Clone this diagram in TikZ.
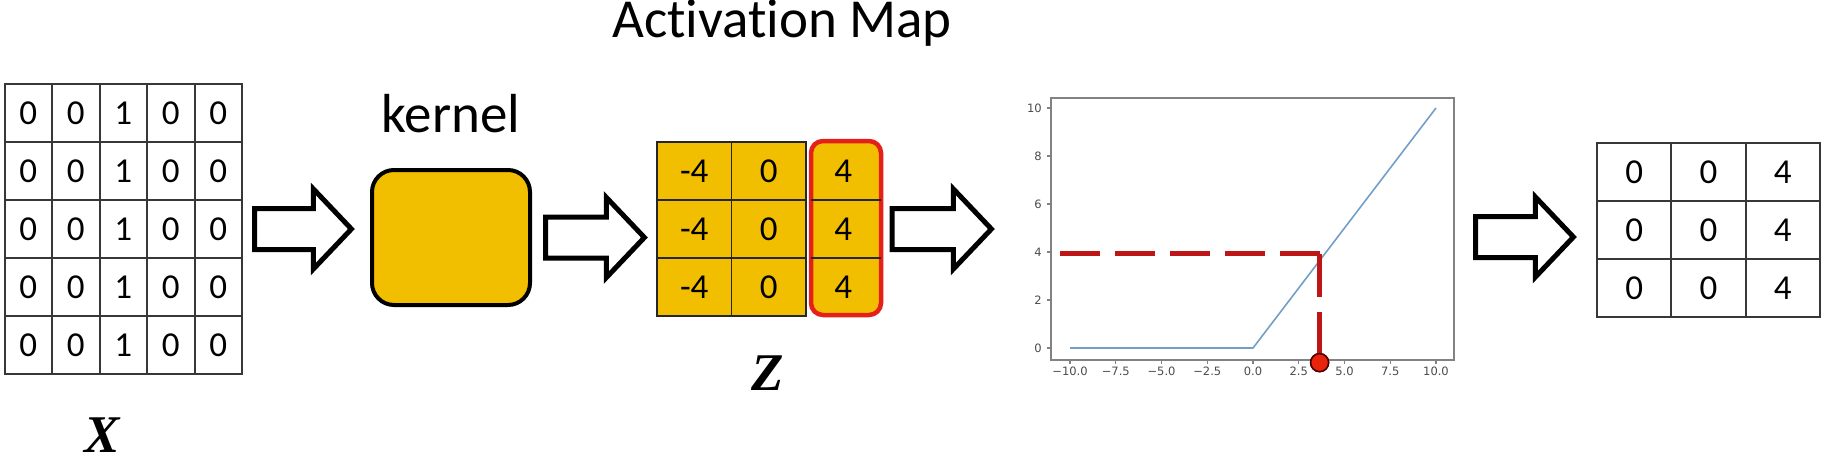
\documentclass[tikz,border=0pt]{standalone}
\usepackage{fontspec}
\setmainfont{Carlito}[Ligatures=NoCommon]
\newfontfamily\tickfont{DejaVu Sans}
\newfontfamily\mathlike{Liberation Serif}
\usetikzlibrary{calc,fit}
\definecolor{gold}{RGB}{242,190,0}
\definecolor{boxred}{RGB}{228,32,24}
\definecolor{dashred}{RGB}{190,22,22}
\definecolor{dotred}{RGB}{232,36,12}
\definecolor{relublue}{RGB}{115,158,200}
\definecolor{gridgray}{RGB}{55,55,55}
\definecolor{framegray}{RGB}{130,130,130}
\definecolor{ticktext}{RGB}{75,75,75}
\tikzset{
  digits/.style={font=\fontsize{35}{40}\selectfont},
  cellX/.style={draw=gridgray, line width=2pt, minimum width=47.5pt, minimum height=58pt, inner sep=0pt, outer sep=0pt, digits},
  cellZ/.style={draw=black!85, fill=gold, line width=1.6pt, minimum width=74.5pt, minimum height=58pt, inner sep=0pt, outer sep=0pt, digits},
  cellZsel/.style={minimum width=74.5pt, minimum height=58pt, inner sep=0pt, outer sep=0pt, digits},
  cellO/.style={draw=gridgray, line width=2pt, minimum width=74.3pt, minimum height=58pt, inner sep=0pt, outer sep=0pt, digits},
  selbox/.style={draw=boxred, fill=gold, line width=4.5pt, rounded corners=12pt, minimum width=70pt, minimum height=174pt, inner sep=0pt, outer sep=0pt},
  selsep/.style={draw=black!85, line width=1.6pt},
  kernelbox/.style={draw=black, fill=gold, line width=4pt, rounded corners=22pt, minimum width=158pt, minimum height=135pt, inner sep=0pt, outer sep=0pt},
  bigtext/.style={font=\fontsize{55}{60}\selectfont, inner sep=0pt},
  varlabel/.style={font=\mathlike\bfseries\itshape\fontsize{53}{60}\selectfont, inner sep=0pt},
  plotframe/.style={draw=framegray, line width=1.5pt, minimum width=403pt, minimum height=262pt, inner sep=0pt, outer sep=0pt},
  ticklab/.style={font=\tickfont\fontsize{11.5}{12}\selectfont, text=ticktext, inner sep=0pt},
  tickmark/.style={draw=framegray, line width=1.2pt},
  barrow/.style={draw=black, fill=white, line width=5pt, line join=miter},
  relu/.style={draw=relublue, line width=1.6pt},
  reddash/.style={draw=dashred, line width=5pt},
  reddot/.style={circle, draw=black!70!red, fill=dotred, line width=1.5pt, minimum size=18pt, inner sep=0pt}
}
\newcommand{\blockarrow}[2]{%
  \draw[barrow] ($(#1)+(0,-20.5)$) -- ($(#2)+(-38,-20.5)$) -- ($(#2)+(-38,-40)$) -- (#2)
     -- ($(#2)+(-38,40)$) -- ($(#2)+(-38,20.5)$) -- ($(#1)+(0,20.5)$) -- cycle;}
\begin{document}
\begin{tikzpicture}[x=1pt,y=-1pt]
\path[use as bounding box] (0,0) rectangle (1826,460);

% title
\node[bigtext, anchor=base] (title) at (782,38) {Activation Map};

% X grid
\foreach \r in {1,...,5}{
  \foreach \c/\v in {1/0,2/0,3/1,4/0,5/0}{
    \node[cellX] (X-\r-\c) at ({4.5+47.5*(\c-0.5)},{84+58*(\r-0.5)}) {\v};
  }
}
\node[fit=(X-1-1)(X-5-5), inner sep=0pt, outer sep=0pt] (X) {};
\node[varlabel, anchor=base] (Xlab) at (102,452) {X};

% kernel
\node[kernelbox] (kernel) at (451,237.5) {};
\node[bigtext, anchor=base] (kernellab) at (451,132) {kernel};

% Z grid
\foreach \r in {1,2,3}{
  \foreach \c/\v in {1/-4,2/0}{
    \node[cellZ] (Z-\r-\c) at ({657+74.5*(\c-0.5)},{142+58*(\r-0.5)}) {\v};
  }
}
\node[selbox] (sel) at (846,228) {};
\draw[selsep] (sel.west |- 0,200) -- (sel.east |- 0,200);
\draw[selsep] (sel.west |- 0,258) -- (sel.east |- 0,258);
\foreach \r in {1,2,3}{
  \node[cellZsel] (Z-\r-3) at ({657+74.5*2.5},{142+58*(\r-0.5)}) {4};
}
\node[fit=(Z-1-1)(Z-3-3), inner sep=0pt, outer sep=0pt] (Z) {};
\node[varlabel, anchor=base] (Zlab) at (768,390) {Z};

% plot
\node[plotframe] (plot) at (1252.5,229) {};
\foreach \v in {0,2,4,6,8,10}{
  \node[ticklab, anchor=east] (yt\v) at (1042,{348-24*\v}) {\v};
  \draw[tickmark] (1047,{348-24*\v}) -- (1051,{348-24*\v});
}
\foreach \xv/\lab [count=\i] in {-10/−10.0,-7.5/−7.5,-5/−5.0,-2.5/−2.5,0/0.0,2.5/2.5,5/5.0,7.5/7.5,10/10.0}{
  \node[ticklab, anchor=north] (xt\i) at ({1253+18.3*\xv},367) {\lab};
  \draw[tickmark] ({1253+18.3*\xv},360) -- ({1253+18.3*\xv},364);
}
\begin{scope}[shift={(1253,348)}, x=18.3pt, y=24pt]
  \draw[relu] (-10,0) -- (0,0) -- (10,10);
  \coordinate (dl) at (-10.55,3.92);
  \coordinate (dc) at (3.66,3.92);
  \node[reddot] (dot) at (3.64,-0.61) {};
  \draw[reddash, dash pattern=on 40pt off 15pt] (dl) -- (dc);
  \draw[reddash, dash pattern=on 43pt off 15pt] (dc) -- (dc |- dot.north);
  \node[reddot] at (dot) {};
\end{scope}

% output grid
\foreach \r in {1,2,3}{
  \foreach \c/\v in {1/0,2/0,3/4}{
    \node[cellO] (O-\r-\c) at ({1597+74.3*(\c-0.5)},{143+58*(\r-0.5)}) {\v};
  }
}
\node[fit=(O-1-1)(O-3-3), inner sep=0pt, outer sep=0pt] (out) {};

% block arrows
\coordinate (a1s) at ($(X.east)+(12.5,0)$);
\coordinate (a1t) at ($(a1s -| kernel.west)+(-20.6,0)$);
\blockarrow{a1s}{a1t}
\coordinate (a2s) at ($(kernel.east)+(15.5,0)$);
\coordinate (a2t) at ($(a2s -| Z.west)+(-12.6,0)$);
\blockarrow{a2s}{a2t}
\coordinate (a3s) at ($(sel.east)+(11,1)$);
\coordinate (a3t) at ($(a3s -| plot.west)+(-59.6,0)$);
\blockarrow{a3s}{a3t}
\coordinate (a4s) at ($(plot.east)+(21.5,8)$);
\coordinate (a4t) at ($(a4s -| out.west)+(-23.6,0)$);
\blockarrow{a4s}{a4t}
\end{tikzpicture}
\end{document}
